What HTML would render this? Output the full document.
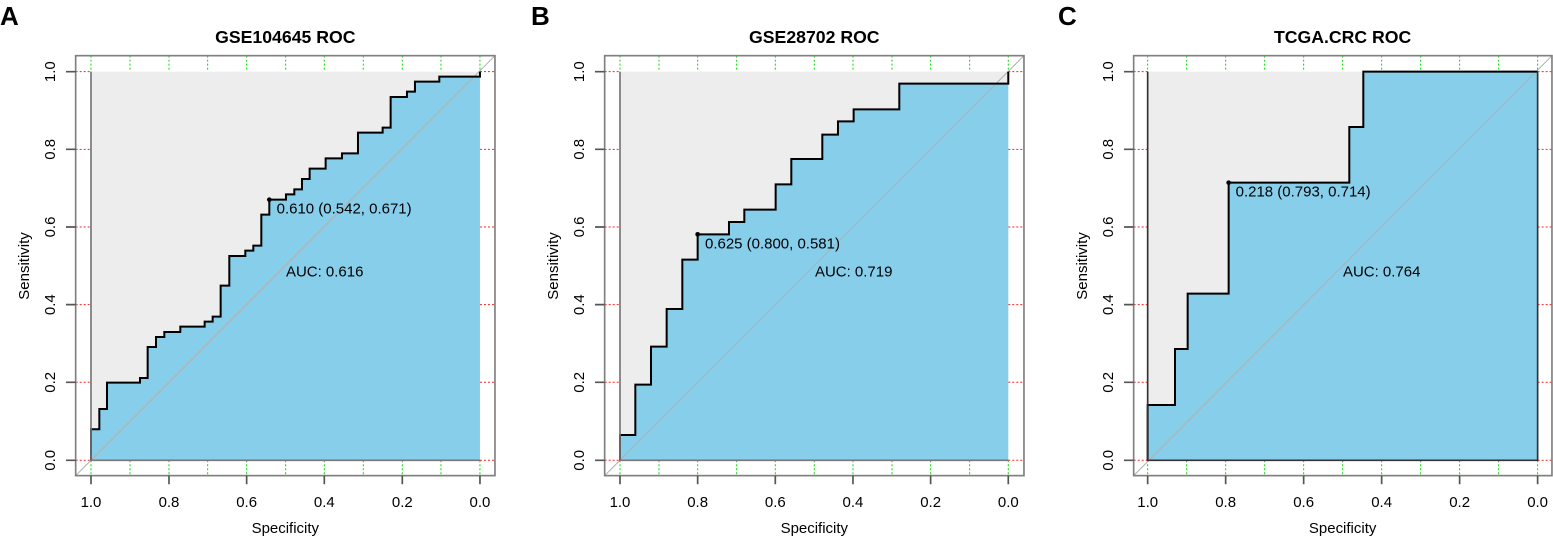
<!DOCTYPE html>
<html><head><meta charset="utf-8"><style>
html,body{margin:0;padding:0;background:#fff;}
svg{display:block;font-family:"Liberation Sans",Arial,sans-serif;}
</style></head><body>
<svg width="1553" height="537" viewBox="0 0 1553 537" xmlns="http://www.w3.org/2000/svg">
<text x="0" y="25" font-size="26" font-weight="bold">A</text>
<text x="531" y="25" font-size="26" font-weight="bold">B</text>
<text x="1058" y="25" font-size="26" font-weight="bold">C</text>

<!-- Panel A -->
<g transform="translate(60,50) scale(0.3333)">
  <rect x="47" y="17" width="1258" height="1260" fill="#fff"/>
  <rect x="93" y="65" width="1167" height="1166" fill="#ededed"/>
  <g stroke="#00e000" stroke-width="3" stroke-dasharray="6,6">
    <path d="M93,17V65M210,17V65M327,17V65M443,17V65M560,17V65M677,17V65M793,17V65M910,17V65M1027,17V65M1143,17V65M1260,17V65"/>
    <path d="M93,1231V1277M210,1231V1277M327,1231V1277M443,1231V1277M560,1231V1277M677,1231V1277M793,1231V1277M910,1231V1277M1027,1231V1277M1143,1231V1277M1260,1231V1277"/>
  </g>
  <g stroke="#ff2020" stroke-width="3" stroke-dasharray="6,6">
    <path d="M47,65H93M47,298H93M47,531H93M47,764H93M47,997H93M47,1231H93"/>
    <path d="M1260,65H1305M1260,298H1305M1260,531H1305M1260,764H1305M1260,997H1305M1260,1231H1305"/>
  </g>
  <path d="M93,1231V1138H118V1077H141V998H240V984H263V891H288V861H313V846H361V830H434V815H458V800H482V707H508V618H556V602H580V587H604V494H628V449H678V433H703V418H726V387H749V356H797V325H846V310H894V248H968V233H992V141H1041V125H1065V95H1138V80H1260V1231Z" fill="#87ceeb"/>
  <line x1="47" y1="1277" x2="1305" y2="17" stroke="#b0b0b0" stroke-width="3"/>
  <path d="M93,1231V1138H118V1077H141V998H240V984H263V891H288V861H313V846H361V830H434V815H458V800H482V707H508V618H556V602H580V587H604V494H628V449H678V433H703V418H726V387H749V356H797V325H846V310H894V248H968V233H992V141H1041V125H1065V95H1138V80H1260V65" fill="none" stroke="#000" stroke-width="6"/>
  <path d="M93,65V1231H1260" fill="none" stroke="#777" stroke-width="5"/>
  <circle cx="628" cy="449" r="7"/>
  <rect x="47" y="17" width="1258" height="1260" fill="none" stroke="#808080" stroke-width="5"/>
  <g stroke="#555" stroke-width="5">
    <path d="M93,1277V1303M327,1277V1303M560,1277V1303M793,1277V1303M1027,1277V1303M1260,1277V1303"/>
    <path d="M18,65H47M18,298H47M18,531H47M18,764H47M18,997H47M18,1231H47"/>
  </g>
  <g font-size="45" text-anchor="middle">
    <text x="676" y="-21" font-weight="bold" font-size="53">GSE104645 ROC</text>
    <text x="93" y="1371">1.0</text><text x="327" y="1371">0.8</text><text x="560" y="1371">0.6</text><text x="793" y="1371">0.4</text><text x="1027" y="1371">0.2</text><text x="1260" y="1371">0.0</text>
    <text x="676" y="1449">Specificity</text>
    <text transform="translate(-15,1231) rotate(-90)">0.0</text>
    <text transform="translate(-15,997) rotate(-90)">0.2</text>
    <text transform="translate(-15,764) rotate(-90)">0.4</text>
    <text transform="translate(-15,531) rotate(-90)">0.6</text>
    <text transform="translate(-15,298) rotate(-90)">0.8</text>
    <text transform="translate(-15,65) rotate(-90)">1.0</text>
    <text transform="translate(-93,648) rotate(-90)">Sensitivity</text>
  </g>
  <g font-size="45">
    <text x="650" y="490">0.610 (0.542, 0.671)</text>
    <text x="678" y="680">AUC: 0.616</text>
  </g>
</g>

<!-- Panel B -->
<g transform="translate(590,50) scale(0.3333)">
  <rect x="44" y="17" width="1258" height="1260" fill="#fff"/>
  <rect x="90" y="65" width="1165" height="1166" fill="#ededed"/>
  <g stroke="#00e000" stroke-width="3" stroke-dasharray="6,6">
    <path d="M90,17V65M207,17V65M323,17V65M440,17V65M556,17V65M673,17V65M789,17V65M906,17V65M1022,17V65M1139,17V65M1255,17V65"/>
    <path d="M90,1231V1277M207,1231V1277M323,1231V1277M440,1231V1277M556,1231V1277M673,1231V1277M789,1231V1277M906,1231V1277M1022,1231V1277M1139,1231V1277M1255,1231V1277"/>
  </g>
  <g stroke="#ff2020" stroke-width="3" stroke-dasharray="6,6">
    <path d="M44,65H90M44,298H90M44,531H90M44,764H90M44,997H90M44,1231H90"/>
    <path d="M1255,65H1302M1255,298H1302M1255,531H1302M1255,764H1302M1255,997H1302M1255,1231H1302"/>
  </g>
  <path d="M90,1231V1155H136V1004H183V890H230V777H277V629H323V553H417V516H463V479H557V403H604V327H697V254H744V214H791V178H928V101H1255V1231Z" fill="#87ceeb"/>
  <line x1="44" y1="1277" x2="1302" y2="17" stroke="#b0b0b0" stroke-width="3"/>
  <path d="M90,1231V1155H136V1004H183V890H230V777H277V629H323V553H417V516H463V479H557V403H604V327H697V254H744V214H791V178H928V101H1255V65" fill="none" stroke="#000" stroke-width="6"/>
  <path d="M90,65V1231H1255" fill="none" stroke="#777" stroke-width="5"/>
  <circle cx="323" cy="553" r="7"/>
  <rect x="44" y="17" width="1258" height="1260" fill="none" stroke="#808080" stroke-width="5"/>
  <g stroke="#555" stroke-width="5">
    <path d="M90,1277V1303M323,1277V1303M556,1277V1303M789,1277V1303M1022,1277V1303M1255,1277V1303"/>
    <path d="M15,65H44M15,298H44M15,531H44M15,764H44M15,997H44M15,1231H44"/>
  </g>
  <g font-size="45" text-anchor="middle">
    <text x="673" y="-21" font-weight="bold" font-size="53">GSE28702 ROC</text>
    <text x="90" y="1371">1.0</text><text x="323" y="1371">0.8</text><text x="556" y="1371">0.6</text><text x="789" y="1371">0.4</text><text x="1022" y="1371">0.2</text><text x="1255" y="1371">0.0</text>
    <text x="673" y="1449">Specificity</text>
    <text transform="translate(-18,1231) rotate(-90)">0.0</text>
    <text transform="translate(-18,997) rotate(-90)">0.2</text>
    <text transform="translate(-18,764) rotate(-90)">0.4</text>
    <text transform="translate(-18,531) rotate(-90)">0.6</text>
    <text transform="translate(-18,298) rotate(-90)">0.8</text>
    <text transform="translate(-18,65) rotate(-90)">1.0</text>
    <text transform="translate(-96,648) rotate(-90)">Sensitivity</text>
  </g>
  <g font-size="45">
    <text x="345" y="595">0.625 (0.800, 0.581)</text>
    <text x="675" y="680">AUC: 0.719</text>
  </g>
</g>

<!-- Panel C -->
<g transform="translate(1117,50) scale(0.3333)">
  <rect x="50" y="17" width="1255" height="1260" fill="#fff"/>
  <rect x="92" y="65" width="1170" height="1166" fill="#ededed"/>
  <g stroke="#00e000" stroke-width="3" stroke-dasharray="6,6">
    <path d="M92,17V65M209,17V65M326,17V65M443,17V65M560,17V65M677,17V65M794,17V65M911,17V65M1028,17V65M1145,17V65M1262,17V65"/>
    <path d="M92,1231V1277M209,1231V1277M326,1231V1277M443,1231V1277M560,1231V1277M677,1231V1277M794,1231V1277M911,1231V1277M1028,1231V1277M1145,1231V1277M1262,1231V1277"/>
  </g>
  <g stroke="#ff2020" stroke-width="3" stroke-dasharray="6,6">
    <path d="M50,65H92M50,298H92M50,531H92M50,764H92M50,997H92M50,1231H92"/>
    <path d="M1262,65H1305M1262,298H1305M1262,531H1305M1262,764H1305M1262,997H1305M1262,1231H1305"/>
  </g>
  <path d="M92,1231V1065H174V897H212V731H335V398H697V231H739V65H1262V1231Z" fill="#87ceeb"/>
  <line x1="50" y1="1277" x2="1305" y2="17" stroke="#b0b0b0" stroke-width="3"/>
  <path d="M92,1231V1065H174V897H212V731H335V398H697V231H739V65H1262" fill="none" stroke="#000" stroke-width="6"/>
  <path d="M92,65V1231H1262V65" fill="none" stroke="#333" stroke-width="5"/>
  <circle cx="335" cy="398" r="7"/>
  <rect x="50" y="17" width="1255" height="1260" fill="none" stroke="#808080" stroke-width="5"/>
  <g stroke="#555" stroke-width="5">
    <path d="M92,1277V1303M326,1277V1303M560,1277V1303M794,1277V1303M1028,1277V1303M1262,1277V1303"/>
    <path d="M21,65H50M21,298H50M21,531H50M21,764H50M21,997H50M21,1231H50"/>
  </g>
  <g font-size="45" text-anchor="middle">
    <text x="677" y="-21" font-weight="bold" font-size="53">TCGA.CRC ROC</text>
    <text x="92" y="1371">1.0</text><text x="326" y="1371">0.8</text><text x="560" y="1371">0.6</text><text x="794" y="1371">0.4</text><text x="1028" y="1371">0.2</text><text x="1262" y="1371">0.0</text>
    <text x="677" y="1449">Specificity</text>
    <text transform="translate(-12,1231) rotate(-90)">0.0</text>
    <text transform="translate(-12,997) rotate(-90)">0.2</text>
    <text transform="translate(-12,764) rotate(-90)">0.4</text>
    <text transform="translate(-12,531) rotate(-90)">0.6</text>
    <text transform="translate(-12,298) rotate(-90)">0.8</text>
    <text transform="translate(-12,65) rotate(-90)">1.0</text>
    <text transform="translate(-90,648) rotate(-90)">Sensitivity</text>
  </g>
  <g font-size="45">
    <text x="356" y="440">0.218 (0.793, 0.714)</text>
    <text x="678" y="680">AUC: 0.764</text>
  </g>
</g>
</svg>
</body></html>
